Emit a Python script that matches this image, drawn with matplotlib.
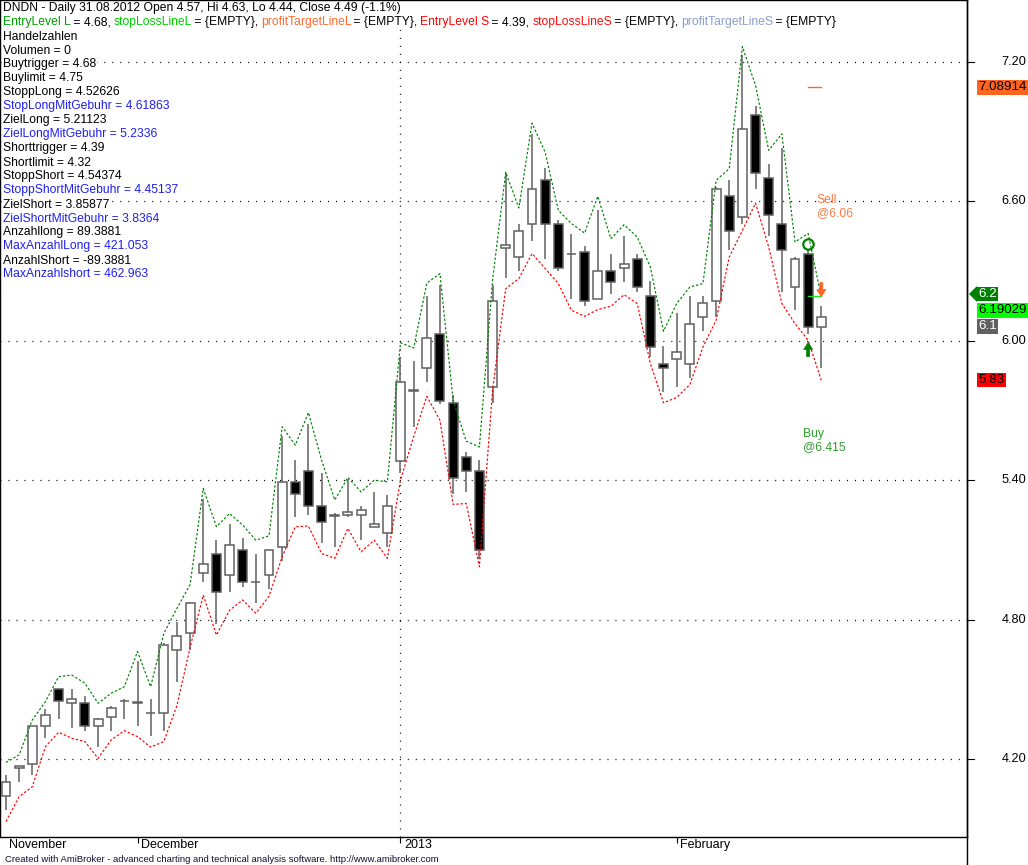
import matplotlib
matplotlib.use("Agg")
import matplotlib.pyplot as plt
from matplotlib.patches import Rectangle, Polygon
from matplotlib.lines import Line2D
from matplotlib.transforms import IdentityTransform

plt.rcParams['font.family'] = ['Liberation Sans', 'DejaVu Sans']
plt.rcParams['lines.scale_dashes'] = False

# ---------------- data ----------------
opens = [4.04, 4.16, 4.18, 4.34, 4.50, 4.44, 4.44, 4.34, 4.38, 4.45,
         4.44, 4.40, 4.40, 4.67, 4.74, 5.00, 5.08, 4.99, 5.10, 4.96,
         4.99, 5.11, 5.39, 5.44, 5.29, 5.25, 5.248, 5.248, 5.20, 5.17,
         5.48, 5.782, 5.88, 6.03, 5.73, 5.50, 5.44, 5.80, 6.40, 6.36,
         6.50, 6.69, 6.50, 6.37, 6.38, 6.18, 6.30, 6.31, 6.35, 6.19,
         5.90, 5.92, 5.90, 6.10, 6.17, 6.62, 6.53, 6.97, 6.70, 6.50,
         6.23, 6.37, 6.06]
highs = [4.13, 4.17, 4.34, 4.415, 4.50, 4.50, 4.47, 4.375, 4.43, 4.46,
         4.62, 4.46, 4.70, 4.79, 4.875, 5.32, 5.14, 5.21, 5.15, 5.08,
         5.10, 5.59, 5.485, 5.64, 5.43, 5.256, 5.405, 5.29, 5.35, 5.335,
         5.93, 5.91, 6.19, 6.24, 5.765, 5.52, 5.485, 6.24, 6.72, 6.50,
         6.89, 6.74, 6.52, 6.46, 6.405, 6.56, 6.37, 6.45, 6.37, 6.255,
         5.975, 6.12, 6.19, 6.19, 6.66, 6.69, 7.23, 7.01, 6.76, 6.83,
         6.36, 6.395, 6.15]
lows = [3.98, 4.10, 4.13, 4.29, 4.37, 4.335, 4.32, 4.25, 4.32, 4.37,
        4.34, 4.30, 4.32, 4.53, 4.67, 4.96, 4.78, 4.92, 4.94, 4.87,
        4.93, 5.05, 5.24, 5.25, 5.13, 5.11, 5.242, 5.14, 5.20, 5.11,
        5.43, 5.63, 5.82, 5.725, 5.34, 5.35, 5.06, 5.73, 6.27, 6.30,
        6.43, 6.35, 6.30, 6.18, 6.15, 6.18, 6.20, 6.25, 6.21, 5.93,
        5.78, 5.80, 5.84, 6.04, 6.10, 6.39, 6.50, 6.65, 6.45, 6.21,
        6.13, 6.03, 5.88]
closes = [4.10, 4.17, 4.34, 4.39, 4.45, 4.46, 4.34, 4.37, 4.42, 4.45,
          4.445, 4.40, 4.69, 4.73, 4.87, 5.04, 4.92, 5.12, 4.96, 4.96,
          5.10, 5.39, 5.34, 5.29, 5.22, 5.245, 5.261, 5.27, 5.21, 5.29,
          5.82, 5.789, 6.01, 5.74, 5.41, 5.44, 5.10, 6.17, 6.41, 6.47,
          6.65, 6.50, 6.31, 6.37, 6.17, 6.30, 6.25, 6.33, 6.23, 5.97,
          5.88, 5.95, 6.07, 6.16, 6.65, 6.47, 6.91, 6.72, 6.54, 6.39,
          6.35, 6.06, 6.10]
upper_band = [4.185, 4.218, 4.368, 4.447, 4.554, 4.561, 4.526, 4.440, 4.483, 4.511,
              4.662, 4.511, 4.74, 4.848, 4.95, 5.364, 5.199, 5.256, 5.206, 5.141,
              5.16, 5.629, 5.550, 5.690, 5.485, 5.314, 5.411, 5.349, 5.399, 5.392,
              5.99, 5.968, 6.247, 6.288, 5.743, 5.567, 5.542, 6.259, 6.724, 6.570,
              6.935, 6.81, 6.560, 6.503, 6.462, 6.620, 6.438, 6.498, 6.445, 6.316,
              6.040, 6.159, 6.230, 6.245, 6.689, 6.739, 7.264, 7.097, 6.818, 6.889,
              6.424, 6.460, 6.187]
lower_band = [3.931, 4.038, 4.081, 4.253, 4.315, 4.289, 4.275, 4.203, 4.282, 4.322,
              4.296, 4.251, 4.275, 4.43, 4.68, 4.905, 4.733, 4.84, 4.884, 4.827,
              4.90, 5.070, 5.199, 5.202, 5.084, 5.063, 5.192, 5.091, 5.141, 5.063,
              5.40, 5.586, 5.760, 5.657, 5.295, 5.299, 5.027, 5.786, 6.223, 6.266,
              6.374, 6.31, 6.245, 6.130, 6.104, 6.133, 6.147, 6.197, 6.159, 5.901,
              5.732, 5.755, 5.81, 5.972, 6.087, 6.359, 6.474, 6.591, 6.402, 6.159,
              6.073, 6.001, 5.829]

month_labels = ["November", "December", "2013", "February"]
month_starts = [0, 10, 30, 51]
year_break = 30
price_ticks = [4.20, 4.80, 5.40, 6.00, 6.60, 7.20]

buy_bar, buy_price = 61, 6.415
sell_bar, sell_price = 62, 6.06
stop_level = 6.19029
target_level = 7.08914
axis_labels = ["7.08914", "6.2", "6.19029", "6.1", "5.83"]
axis_label_values = [7.08914, 6.2, 6.19029, 6.1, 5.83]
axis_label_bg = ["#FF6420", "#008000", "#00FF00", "#606060", "#FF0000"]
axis_label_fg = ["black", "white", "black", "white", "black"]
axis_label_shift = [0, 0, 14, 9, 0]

title_line = "DNDN - Daily 31.08.2012 Open 4.57, Hi 4.63, Lo 4.44, Close 4.49 (-1.1%)"
legend_parts = ["EntryLevel L", " = 4.68, ", "stopLossLineL", " = {EMPTY}, ",
                "profitTargetLineL", " = {EMPTY}, ", "EntryLevel S", " = 4.39, ",
                "stopLossLineS", " = {EMPTY}, ", "profitTargetLineS", " = {EMPTY}"]
legend_colors = ["#00A000", "black", "#00CC00", "black", "#FF6A30", "black",
                 "#FF0000", "black", "#FF1010", "black", "#8CA0C8", "black"]
info_lines = ["Handelzahlen", "Volumen = 0", "Buytrigger = 4.68", "Buylimit = 4.75",
              "StoppLong = 4.52626", "StopLongMitGebuhr = 4.61863", "ZielLong = 5.21123",
              "ZielLongMitGebuhr = 5.2336", "Shorttrigger = 4.39", "Shortlimit = 4.32",
              "StoppShort = 4.54374", "StoppShortMitGebuhr = 4.45137", "ZielShort = 3.85877",
              "ZielShortMitGebuhr = 3.8364", "Anzahllong = 89.3881", "MaxAnzahlLong = 421.053",
              "AnzahlShort = -89.3881", "MaxAnzahlshort = 462.963"]
info_blue = [False, False, False, False, False, True, False, True, False, False,
             False, True, False, True, False, True, False, True]
footer = "Created with AmiBroker - advanced charting and technical analysis software. http://www.amibroker.com"

# ---------------- layout ----------------
W, H = 1028, 865
PLOT_R, PLOT_B = 967, 837          # plot area right / bottom in px (from top-left)
BAR0, STEP = 6.0, 13.15            # px position of first bar, px per bar
Y_720, PX_PER_UNIT = 61.5, 232.5
FS = 8.7

fig = plt.figure(figsize=(W / 100, H / 100), dpi=100)
ax = fig.add_axes([0, (H - PLOT_B) / H, PLOT_R / W, PLOT_B / H])
ax.set_xlim(-BAR0 / STEP, (PLOT_R - BAR0) / STEP)
top = 7.2 + Y_720 / PX_PER_UNIT
ax.set_ylim(top - PLOT_B / PX_PER_UNIT, top)
for s in ax.spines.values():
    s.set_color("black")
    s.set_linewidth(1.0)
ax.set_yticks([])
ax.set_xticks(month_starts[1:])
ax.tick_params(axis="x", direction="out", length=4.5, width=0.8, labelbottom=False)

dot = (0, (0.75, 5.0))
for p in price_ticks:
    ax.axhline(p, color="black", lw=0.9, linestyle=dot, dash_capstyle="butt", zorder=1)
ax.axvline(year_break, color="black", lw=0.9, linestyle=dot, dash_capstyle="butt", zorder=1)

# candles
edge = "#606060"
bw = 0.68
for i, (o, h, l, c) in enumerate(zip(opens, highs, lows, closes)):
    lo_b, hi_b = min(o, c), max(o, c)
    ax.plot([i, i], [l, lo_b], color=edge, lw=1.1, zorder=2, solid_capstyle="butt")
    ax.plot([i, i], [hi_b, h], color=edge, lw=1.1, zorder=2, solid_capstyle="butt")
    ax.add_patch(Rectangle((i - bw / 2, lo_b), bw, hi_b - lo_b,
                           facecolor="white" if c >= o else "black",
                           edgecolor=edge, lw=1.1, zorder=3))

xs = list(range(len(closes)))
ax.plot(xs, upper_band, color="#008000", lw=0.85, linestyle=(0, (1.7, 1.4)), zorder=4)
ax.plot(xs, lower_band, color="#FF0000", lw=0.85, linestyle=(0, (1.7, 1.4)), zorder=4)

# short level lines
ax.plot([buy_bar, sell_bar], [stop_level, stop_level], color="#20E020", lw=1.0, zorder=5)
ax.plot([buy_bar, sell_bar], [target_level, target_level], color="#FF6420", lw=1.0, zorder=5)

# buy circle
ax.plot([buy_bar], [buy_price], marker="o", ms=7.5, mfc="none", mec="#008000", mew=1.6, zorder=6)

fig.canvas.draw()
td = ax.transData


def disp(x, y):
    return td.transform((x, y))


def arrow(xd, yd, up, color):
    # tip at display (xd, yd); 14 px long, head 7 px, head width 9 px, shaft 3 px
    s = 1 if up else -1
    pts = [(xd, yd), (xd - 4.5, yd - s * 7), (xd - 1.5, yd - s * 7), (xd - 1.5, yd - s * 14),
           (xd + 1.5, yd - s * 14), (xd + 1.5, yd - s * 7), (xd + 4.5, yd - s * 7)]
    fig.add_artist(Polygon(pts, closed=True, facecolor=color, edgecolor=color, lw=0.5,
                           transform=IdentityTransform(), zorder=7))


bx, by = disp(buy_bar, lows[buy_bar])
arrow(bx, by - 9, True, "#008000")
sx, sy = disp(sell_bar, highs[sell_bar])
arrow(sx, sy + 9, False, "#FF6420")

fig.text((bx - 5) / W, (by - 94) / H, "Buy\n@6.415", color="#2E9B2E", fontsize=FS,
         ha="left", va="top", linespacing=1.2)
fig.text((sx - 4.5) / W, (sy + 112) / H, "Sell\n@6.06", color="#FF7A45", fontsize=FS,
         ha="left", va="top", linespacing=1.2)

# right axis ticks / labels
for p in price_ticks:
    _, yp = disp(0, p)
    fig.add_artist(Line2D([PLOT_R, PLOT_R + 7], [yp, yp], color="black", lw=0.8,
                          transform=IdentityTransform()))
    fig.text(1026 / W, yp / H, f"{p:.2f}", ha="right", va="center", fontsize=9.2)

for txt, v, bg, fg, sh in zip(axis_labels, axis_label_values, axis_label_bg,
                              axis_label_fg, axis_label_shift):
    _, yp = disp(0, v)
    yp -= sh
    fig.text(978 / W, yp / H, txt, ha="left", va="center", fontsize=9.6, color=fg,
             bbox=dict(boxstyle="square,pad=0.1", fc=bg, ec="none"), zorder=8)
    if txt == "6.2":
        fig.add_artist(Polygon([(969, yp), (977, yp + 8), (977, yp - 8)], closed=True,
                               fc=bg, ec="none", transform=IdentityTransform(), zorder=8))

# extra right border line down to bottom
fig.add_artist(Line2D([PLOT_R, PLOT_R], [0, H], color="black", lw=1.0,
                      transform=IdentityTransform()))

# month labels
for lab, m in zip(month_labels, month_starts):
    xp, _ = disp(m, 0)
    fig.text((xp + 3.5) / W, 1 - 845 / H, lab, ha="left", va="center", fontsize=9)

fig.text(5 / W, 1 - 859 / H, footer, ha="left", va="center", fontsize=6.8, color="#101030")

# text header
bgbox = dict(facecolor="white", edgecolor="none", pad=0.6)
fig.text(3 / W, 1 - 11.5 / H, title_line, fontsize=FS, va="baseline", ha="left",
         bbox=bgbox, zorder=9)
renderer = fig.canvas.get_renderer()
x = 3.0
for part, col in zip(legend_parts, legend_colors):
    t = fig.text(x / W, 1 - 25.5 / H, part, fontsize=FS, va="baseline", ha="left", color=col,
                 zorder=10)
    x += t.get_window_extent(renderer).width * 0.988
# white background strip behind the multi-coloured line (hides grid dots)
base = H - 25.5
fig.add_artist(Rectangle((2, base - 4), x - 2, 15, facecolor="white", edgecolor="none",
                         transform=IdentityTransform(), zorder=9))
for k, (line, blue) in enumerate(zip(info_lines, info_blue)):
    fig.text(3 / W, 1 - (39.5 + 14 * k) / H, line, fontsize=FS, va="baseline", ha="left",
             color="#2020F0" if blue else "black", bbox=bgbox, zorder=9)

fig.savefig("out.png", dpi=100)
